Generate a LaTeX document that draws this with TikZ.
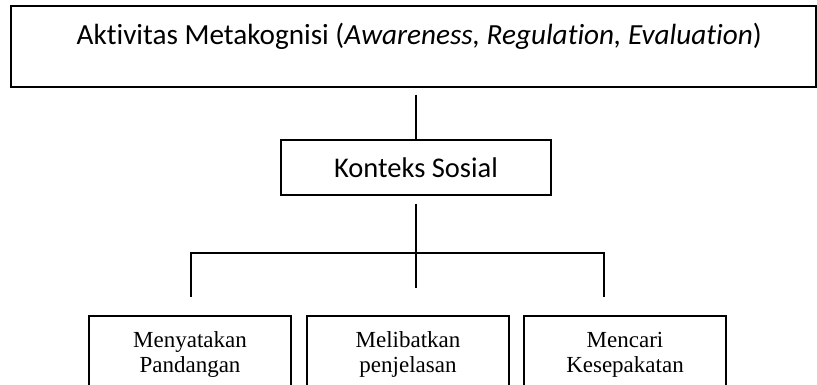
\documentclass[tikz,border=0pt]{standalone}
\usepackage{fontspec}
\setmainfont{Liberation Serif}
\newfontfamily\calibrifont[Ligatures=NoCommon]{Carlito}
\usetikzlibrary{positioning}

\tikzset{
  kotak/.style={draw, line width=1.5pt, inner sep=0pt},
  atas/.style={kotak, font=\calibrifont\fontsize{28.5}{30}\selectfont},
  bawah/.style={kotak, anchor=north, text width=202pt, align=center,
    text height=32pt, text depth=120pt, font=\fontsize{23}{25}\selectfont},
  garis/.style={line width=1.5pt},
}

\begin{document}
\begin{tikzpicture}[x=1pt,y=-1pt]
  \useasboundingbox (0,0) rectangle (817,384);
  \clip (0,0) rectangle (817,384);

  % kotak utama
  \node[atas, anchor=north west, minimum width=805pt, text height=39pt, text depth=42pt,
    font=\calibrifont\fontsize{29.2}{31}\selectfont] (akt) at (10,5)
    {\hspace*{12pt}Aktivitas Metakognisi (\textit{Awareness, Regulation, Evaluation})};
  \node[atas, anchor=north, minimum width=270pt, text height=38pt, text depth=17pt] (ks) at (416,139)
    {Konteks Sosial};

  % tiga kotak bawah
  \node[bawah] (b1) at (190,315) {Menyatakan\\Pandangan};
  \node[bawah] (b2) at (408,315) {Melibatkan\\penjelasan};
  \node[bawah] (b3) at (625,315) {Mencari\\Kesepakatan};

  % cabang
  \coordinate (cabang) at (416,253);
  \coordinate (kiri) at (191,297);
  \coordinate (kanan) at (604,297);
  \coordinate (tengah) at (416,288);

  \draw[garis, shorten <=7pt] (akt.south -| ks.north) -- (ks.north);
  \draw[garis, shorten <=8pt] (ks.south) -- (tengah);
  \draw[garis] (kiri) |- (cabang) -| (kanan);
\end{tikzpicture}
\end{document}
